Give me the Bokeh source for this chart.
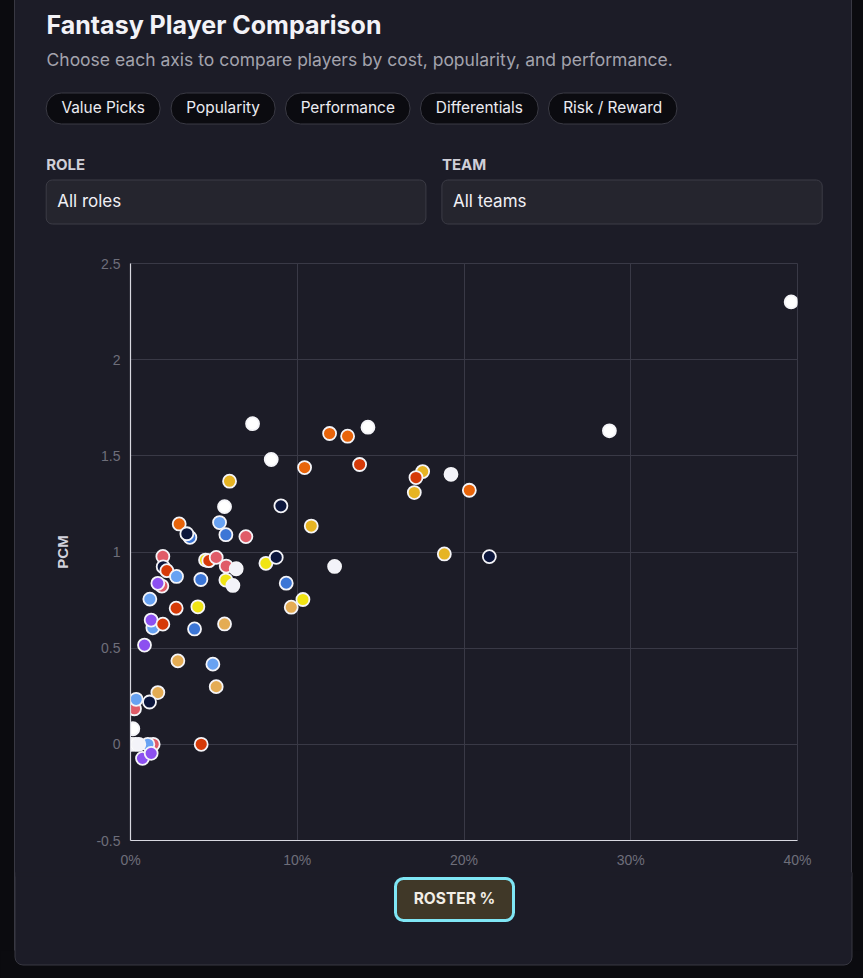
from bokeh.plotting import figure
from bokeh.layouts import column, row
from bokeh.models import BoxAnnotation, FixedTicker, ColumnDataSource
from bokeh.embed import file_html
from bokeh.resources import INLINE
from bokeh.core.properties import value

# ---- data: roster % (x) vs PCM (y), one entry per player ----
roster_pct = [39.62, 28.72, 7.32, 14.24, 11.94, 13.02, 8.44, 10.44, 13.74, 17.52,
              17.12, 17.02, 19.22, 20.32, 5.94, 5.64, 9.02, 10.84, 18.82, 21.52,
              12.24, 2.92, 3.56, 3.38, 5.34, 5.72, 6.92, 1.94, 1.96, 2.18,
              2.76, 1.88, 1.64, 4.22, 4.50, 4.70, 5.14, 5.74, 6.34, 5.72,
              6.14, 8.12, 8.74, 9.34, 10.34, 9.64, 1.16, 2.74, 4.04, 1.34,
              1.24, 1.94, 3.84, 5.64, 0.84, 2.84, 4.94, 5.14, 1.64, 0.24,
              0.34, 1.14, 0.14, 4.24, 1.36, 1.04, 0.06, 0.30, 0.50, 0.72,
              1.24]
pcm = [2.30, 1.63, 1.667, 1.649, 1.616, 1.602, 1.481, 1.439, 1.455, 1.418,
       1.387, 1.309, 1.404, 1.321, 1.368, 1.236, 1.240, 1.135, 0.990, 0.976,
       0.925, 1.146, 1.076, 1.095, 1.153, 1.090, 1.080, 0.977, 0.923, 0.903,
       0.873, 0.823, 0.837, 0.857, 0.958, 0.955, 0.972, 0.927, 0.913, 0.854,
       0.826, 0.941, 0.972, 0.838, 0.753, 0.713, 0.755, 0.708, 0.715, 0.606,
       0.646, 0.625, 0.600, 0.626, 0.516, 0.434, 0.417, 0.300, 0.269, 0.185,
       0.234, 0.220, 0.081, 0.0, 0.0, 0.0, 0.0, 0.0, 0.0, -0.073,
       -0.047]
team = ["white", "white", "white", "white", "orange", "orange", "white", "orange", "red", "gold",
        "red", "gold", "snow", "orange", "gold", "white", "navy", "gold", "gold", "navy",
        "snow", "orange", "blue", "navy", "sky", "blue", "pink", "pink", "navy", "red",
        "sky", "pink", "purple", "blue", "yellow", "red", "pink", "pink", "snow", "yellow",
        "snow", "yellow", "navy", "blue", "yellow", "tan", "sky", "red", "yellow", "sky",
        "purple", "red", "blue", "tan", "purple", "tan", "sky", "tan", "tan", "pink",
        "sky", "navy", "white", "red", "pink", "sky", "gold", "white", "snow", "purple",
        "purple"]
team_colors = {
    "white": "#ffffff", "snow": "#f3f3f9", "navy": "#0c163c", "orange": "#e8640a",
    "red": "#d63a08", "gold": "#e6b423", "tan": "#e4ac54", "yellow": "#f0e414",
    "pink": "#e05c68", "blue": "#3c76d6", "sky": "#68a2f2", "purple": "#8c50f0",
}

x_ticks = [0, 10, 20, 30, 40]
x_tick_labels = ["0%", "10%", "20%", "30%", "40%"]
y_ticks = [-0.5, 0, 0.5, 1, 1.5, 2, 2.5]
y_tick_labels = ["-0.5", "0", "0.5", "1", "1.5", "2", "2.5"]

presets = ["Value Picks", "Popularity", "Performance", "Differentials", "Risk / Reward"]
preset_left = [45.7, 170.6, 285.0, 420.0, 548.0]
preset_right = [159.6, 274.6, 409.5, 537.7, 676.4]

filter_heads = ["ROLE", "TEAM"]
filter_choices = ["All roles", "All teams"]
filter_left = [45.7, 441.4]
filter_right = [425.4, 821.7]

PAGE = "#0b0b0f"
CARD = "#1c1c27"
EDGE = "#383842"
GRID = "#393946"
FONT = value("Inter")

W, H = 863, 978
HEAD_H = 250          # header strip height
FOOT_TOP = 872        # where the footer strip starts


def panel(width, height, y0, y1):
    """A transparent drawing surface whose data units are page pixels (y grows downward)."""
    f = figure(width=width, height=height, output_backend="svg", toolbar_location=None,
               x_range=(0, W), y_range=(y1, y0), x_axis_type=None, y_axis_type=None,
               min_border=0, title=None)
    f.border_fill_color = None
    f.background_fill_color = None
    f.outline_line_color = None
    return f


def rbox(f, l, r, t, b, fill, line=None, lw=1, radius=0, level="underlay"):
    f.add_layout(BoxAnnotation(left=l, right=r, top=t, bottom=b,
                               fill_color=fill, fill_alpha=1, line_color=line, line_alpha=1,
                               line_width=lw, border_radius=radius, level=level))


# ---------------- header: title, subtitle, preset pills, filters ----------------
head = panel(W, HEAD_H, 0, HEAD_H)
head.text(x=[46], y=[24.5], text=["Fantasy Player Comparison"], text_font=FONT,
          text_font_size="25px", text_font_style="bold", text_color="#f2f2f7",
          text_baseline="alphabetic")
head.text(x=[46], y=[59.4],
          text=["Choose each axis to compare players by cost, popularity, and performance."],
          text_font=FONT, text_font_size="17.5px", text_color="#a3a3ad",
          text_baseline="alphabetic")

for l, r in zip(preset_left, preset_right):
    rbox(head, l, r, 92.5, 123.5, "#0b0b10", "#3a3a44", 1, 15)
head.text(x=[(l + r) / 2 for l, r in zip(preset_left, preset_right)], y=[106.8] * len(presets),
          text=presets, text_font=FONT, text_font_size="15.4px", text_color="#ececf2",
          text_align="center", text_baseline="alphabetic")

for l, r in zip(filter_left, filter_right):
    rbox(head, l, r, 179.5, 223.5, "#25252e", "#3c3c46", 1, 6)
head.text(x=filter_left, y=[164.4, 164.4], text=filter_heads, text_font=FONT,
          text_font_size="15px", text_font_style="bold", text_color="#cfcfd8",
          text_baseline="alphabetic")
head.text(x=[l + 11 for l in filter_left], y=[200.1, 200.1], text=filter_choices, text_font=FONT,
          text_font_size="17px", text_color="#f0f0f5", text_baseline="alphabetic")

# ---------------- the scatter chart (transparent; the card shows through) ----------------
src = ColumnDataSource(dict(x=roster_pct, y=pcm, color=[team_colors[t] for t in team]))

mid_h = FOOT_TOP - HEAD_H
p = figure(width=W, height=mid_h, output_backend="svg", toolbar_location=None,
           x_range=(0, 40), y_range=(-0.5, 2.5), title=None,
           min_border_left=130, min_border_right=W - 797,
           min_border_top=263 - HEAD_H, min_border_bottom=FOOT_TOP - 840)
p.border_fill_color = None
p.background_fill_color = None
# frame outline supplies the top (2.5) and right (40%) grid lines
p.outline_line_color = GRID
p.outline_line_width = 1

for ax in (p.xaxis[0], p.yaxis[0]):
    ax.axis_line_color = "#d8d8e0"
    ax.axis_line_width = 1.2
    ax.major_tick_line_color = None
    ax.minor_tick_line_color = None
    ax.major_tick_out = 0
    ax.minor_tick_out = 0
    ax.major_label_text_color = "#6e6e7a"
    ax.major_label_text_font = "Liberation Sans"
    ax.major_label_text_font_size = "14px"

p.xaxis.ticker = FixedTicker(ticks=x_ticks)
p.xaxis.major_label_overrides = dict(zip(x_ticks, x_tick_labels))
p.xaxis.major_label_standoff = 11
p.yaxis.ticker = FixedTicker(ticks=y_ticks)
p.yaxis.major_label_overrides = dict(zip(y_ticks, y_tick_labels))
p.yaxis.major_label_standoff = 10
p.yaxis.axis_label = "PCM"
p.yaxis.axis_label_text_font = "Liberation Sans"
p.yaxis.axis_label_text_font_style = "bold"
p.yaxis.axis_label_text_font_size = "15px"
p.yaxis.axis_label_text_color = "#d2d2dc"
p.yaxis.axis_label_standoff = 22

p.grid.grid_line_color = GRID
p.grid.grid_line_width = 1

p.scatter("x", "y", source=src, size=13, fill_color="color", line_color="#f4f4f8", line_width=1.8)

# ---------------- footer: card bottom and x-axis selector ----------------
foot = panel(W, H - FOOT_TOP, FOOT_TOP, H)
# page below the card, then the card with rounded bottom corners over it
rbox(foot, -10, W + 10, 950, H + 20, PAGE, level="image")
rbox(foot, 14.5, 851.5, FOOT_TOP - 40, 964.5, CARD, EDGE, 1, (0, 0, 8, 8), level="image")
# keep the card open towards the chart above
rbox(foot, 15, 851, FOOT_TOP - 10, FOOT_TOP + 4, CARD)
# selector button
rbox(foot, 395, 513, 878, 920, "#403828", "#7fe6f5", 3, 8)
foot.text(x=[454], y=[897.7], text=["ROSTER %"], text_font=FONT, text_font_size="15.5px",
          text_font_style="bold", text_color="#f2eee6", text_align="center",
          text_baseline="alphabetic")

# page strips, card edges and card fill behind the transparent strips
page_bg = ("linear-gradient(to right, {p} 0px, {p} 14px, {e} 14px, {e} 15px, {c} 15px, "
           "{c} 851px, {e} 851px, {e} 852px, {p} 852px, {p} 100%)").format(p=PAGE, e=EDGE, c=CARD)
layout = column(row(head, spacing=0), row(p, spacing=0), row(foot, spacing=0),
                spacing=0, styles={"background": page_bg})
open("out.html", "w").write(file_html(layout, INLINE))
